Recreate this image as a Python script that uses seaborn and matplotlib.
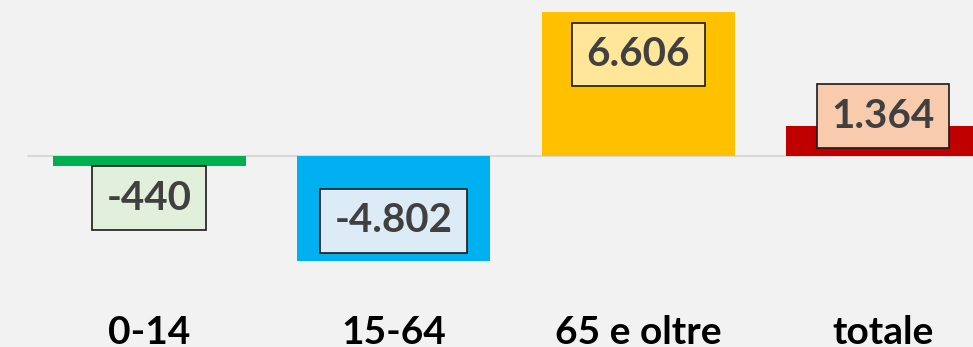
import matplotlib
matplotlib.use("Agg")
import matplotlib.pyplot as plt
from matplotlib.path import Path
import seaborn as sns
import pandas as pd

# Variazione della popolazione per fascia d'età
categories = ["0-14", "15-64", "65 e oltre", "totale"]
values = [-440, -4802, 6606, 1364]
value_labels = ["-440", "-4.802", "6.606", "1.364"]

bar_colors = ["#00B050", "#00B0F0", "#FFC000", "#C00000"]
box_colors = ["#E2EFDA", "#DDEBF7", "#FFE699", "#F8CBAD"]
# vertical anchor of each label box, in data units
label_y = [-1930, -2980, 4660, 1830]


def label_box(x0, y0, width, height, mutation_size):
    """Rectangular label frame with separate horizontal/vertical padding."""
    px = 0.36 * mutation_size
    py = 0.33 * mutation_size
    verts = [(x0 - px, y0 - py), (x0 + width + px, y0 - py),
             (x0 + width + px, y0 + height + py), (x0 - px, y0 + height + py),
             (x0 - px, y0 - py)]
    return Path(verts, closed=True)


sns.set_theme(style="white")
plt.rcParams["font.family"] = ["Lato", "DejaVu Sans"]

bg = "#F2F2F2"
fig = plt.figure(figsize=(9.73, 3.47), dpi=100, facecolor=bg)
ax = fig.add_axes([0, 47 / 347, 1, 300 / 347])
ax.set_facecolor(bg)

df = pd.DataFrame({"categoria": categories, "valore": values})
sns.barplot(data=df, x="categoria", y="valore", hue="categoria",
            palette=bar_colors, saturation=1, width=0.79, legend=False,
            linewidth=0, edgecolor="none", ax=ax, zorder=2)

ax.axhline(0, xmin=28 / 973, xmax=1, color="#D9D9D9", lw=1.5, zorder=1)

for i, (lab, ly, bc) in enumerate(zip(value_labels, label_y, box_colors)):
    ax.text(i, ly, lab, ha="center", va="center", fontsize=29,
            fontweight="bold", color="#404040", zorder=4,
            bbox=dict(boxstyle=label_box, fc=bc, ec="#1a1a1a", lw=1.2))

ax.set_xlim(-0.611, 3.369)
ax.set_ylim(-6606, 7157)
ax.set_xlabel("")
ax.set_ylabel("")
ax.set_yticks([])
ax.tick_params(axis="x", length=0, pad=11)
for t in ax.get_xticklabels():
    t.set_fontsize(28)
    t.set_fontweight("bold")
    t.set_color("black")
for s in ax.spines.values():
    s.set_visible(False)

fig.savefig("out.png", dpi=100, facecolor=bg)
